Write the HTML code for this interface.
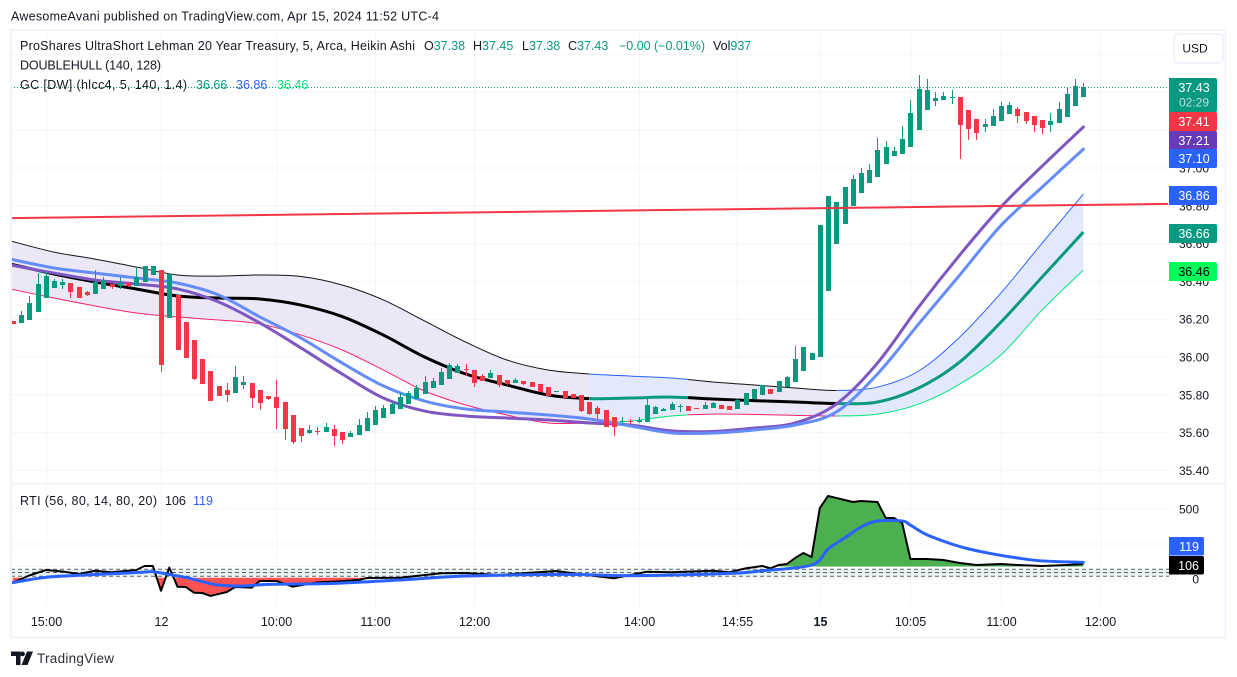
<!DOCTYPE html>
<html lang="en">
<head>
<meta charset="utf-8">
<title>Heikin Ashi chart</title>
<style>
html,body{margin:0;padding:0;background:#fff;width:1237px;height:677px;overflow:hidden}
svg{display:block}
text{font-family:"Liberation Sans","DejaVu Sans",sans-serif;fill:#131722}
</style>
</head>
<body>
<svg id="chart" xmlns="http://www.w3.org/2000/svg" width="1237" height="677" viewBox="0 0 1237 677">
  <rect x="0" y="0" width="1237" height="677" fill="#ffffff"/>
  <text x="11" y="20.5" font-size="12.5" textLength="428" fill="#131722">AwesomeAvani published on TradingView.com, Apr 15, 2024 11:52 UTC-4</text>
  <g id="grid"></g>
  <g id="hull"></g>
  <g id="rti"></g>
  <g id="candles"></g>
  <g id="overlay"></g>
  <rect x="11" y="30" width="1214.5" height="607.5" fill="none" stroke="#f0f3fa" stroke-width="2"/>
  <line x1="11" x2="1225" y1="483.5" y2="483.5" stroke="#f0f3fa" stroke-width="1.5"/>
  <g id="axes"></g>

  <g font-size="12.5">
    <text x="20" y="50" textLength="395">ProShares UltraShort Lehman 20 Year Treasury, 5, Arca, Heikin Ashi</text>
    <text x="424" y="50">O<tspan fill="#089981" style="fill:#089981">37.38</tspan></text>
    <text x="473" y="50">H<tspan fill="#089981" style="fill:#089981">37.45</tspan></text>
    <text x="522" y="50">L<tspan fill="#089981" style="fill:#089981">37.38</tspan></text>
    <text x="568" y="50">C<tspan fill="#089981" style="fill:#089981">37.43</tspan></text>
    <text x="619" y="50" style="fill:#089981" textLength="86">−0.00 (−0.01%)</text>
    <text x="713" y="50">Vol<tspan fill="#089981" style="fill:#089981">937</tspan></text>
    <text x="20" y="69.5" textLength="141">DOUBLEHULL (140, 128)</text>
    <text x="20" y="89" textLength="167">GC [DW] (hlcc4, 5, 140, 1.4)</text>
    <text x="196" y="89" style="fill:#089981">36.66</text>
    <text x="236" y="89" style="fill:#2962ff">36.86</text>
    <text x="277" y="89" style="fill:#00e676">36.46</text>
  </g>
  <g font-size="12.5">
    <text x="20" y="505" textLength="137">RTI (56, 80, 14, 80, 20)</text>
    <text x="165" y="505">106</text>
    <text x="193" y="505" style="fill:#2962ff">119</text>
  </g>

  <g>
    <rect x="1174" y="34" width="49" height="29" rx="4" fill="#ffffff" stroke="#f0f3fa" stroke-width="2"/>
    <text x="1195" y="52.5" font-size="12" text-anchor="middle">USD</text>
  </g>

  <g id="labels"></g>

  <g>
    <path d="M11 651.5h9.5v13.5h-4.5v-9h-5zM22.5 651.5a2.4 2.4 0 1 1 0 4.8a2.4 2.4 0 0 1 0-4.8zM27 651.5h6l-5.5 13.5h-6z" fill="#131722"/>
    <text x="37" y="663" font-size="13.5" textLength="77" style="fill:#2a2e39">TradingView</text>
  </g>
</svg>

<script>
// ---------- price data (open, high, low, close per bar) ----------
const barOHLC = [
[36.191,36.191,36.175,36.175],[36.180,36.243,36.180,36.222],[36.196,36.323,36.196,36.286],[36.238,36.444,36.238,36.386],
[36.312,36.450,36.312,36.428],[36.365,36.412,36.365,36.402],[36.381,36.412,36.360,36.397],[36.391,36.391,36.312,36.344],
[36.370,36.370,36.312,36.312],[36.344,36.349,36.323,36.328],[36.333,36.460,36.333,36.397],[36.360,36.423,36.360,36.407],
[36.386,36.386,36.360,36.370],[36.376,36.423,36.360,36.391],[36.391,36.391,36.370,36.376],[36.376,36.471,36.376,36.423],
[36.397,36.481,36.397,36.481],[36.434,36.481,36.434,36.481],[36.460,36.460,35.921,35.958],[36.206,36.439,36.206,36.439],
[36.328,36.328,36.037,36.037],[36.185,36.185,35.995,35.995],[36.090,36.090,35.878,35.884],[35.989,35.989,35.857,35.857],
[35.926,35.926,35.767,35.767],[35.847,35.847,35.794,35.794],[35.825,35.862,35.762,35.799],[35.810,35.952,35.810,35.894],
[35.852,35.899,35.831,35.868],[35.862,35.862,35.730,35.783],[35.825,35.825,35.720,35.757],[35.794,35.794,35.773,35.778],
[35.788,35.878,35.619,35.730],[35.762,35.762,35.561,35.619],[35.693,35.693,35.540,35.550],[35.624,35.624,35.550,35.582],
[35.598,35.640,35.593,35.614],[35.609,35.630,35.587,35.603],[35.603,35.651,35.603,35.630],[35.619,35.640,35.529,35.582],
[35.603,35.603,35.540,35.561],[35.577,35.609,35.577,35.598],[35.587,35.672,35.587,35.640],[35.609,35.709,35.609,35.677],
[35.640,35.741,35.640,35.720],[35.677,35.746,35.677,35.730],[35.698,35.762,35.698,35.751],[35.725,35.810,35.725,35.788],
[35.751,35.820,35.751,35.810],[35.778,35.852,35.778,35.836],[35.804,35.899,35.804,35.868],[35.836,35.889,35.836,35.873],
[35.852,35.942,35.852,35.921],[35.884,35.968,35.884,35.958],[35.915,35.963,35.915,35.952],[35.937,35.963,35.899,35.931],
[35.931,35.931,35.841,35.862],[35.899,35.910,35.873,35.873],[35.889,35.931,35.889,35.915],[35.905,35.905,35.841,35.852],
[35.878,35.878,35.852,35.857],[35.862,35.889,35.862,35.878],[35.873,35.873,35.852,35.857],[35.868,35.868,35.841,35.841],
[35.857,35.857,35.815,35.815],[35.841,35.841,35.794,35.794],[35.815,35.820,35.815,35.820],[35.820,35.820,35.783,35.783],
[35.804,35.804,35.783,35.783],[35.799,35.799,35.709,35.714],[35.762,35.762,35.693,35.698],[35.730,35.741,35.672,35.698],
[35.720,35.720,35.630,35.630],[35.683,35.683,35.582,35.630],[35.656,35.683,35.640,35.661],[35.661,35.672,35.640,35.656],
[35.656,35.683,35.651,35.667],[35.656,35.778,35.656,35.746],[35.698,35.741,35.698,35.735],[35.714,35.730,35.714,35.725],
[35.720,35.762,35.720,35.751],[35.735,35.751,35.709,35.741],[35.741,35.741,35.714,35.714],[35.730,35.730,35.725,35.725],
[35.725,35.762,35.725,35.746],[35.730,35.762,35.730,35.757],[35.746,35.746,35.725,35.725],[35.741,35.741,35.720,35.720],
[35.725,35.778,35.725,35.773],[35.746,35.810,35.746,35.810],[35.778,35.831,35.778,35.831],[35.799,35.852,35.799,35.852],
[35.831,35.831,35.804,35.804],[35.815,35.873,35.815,35.873],[35.841,35.899,35.841,35.894],[35.868,36.058,35.868,35.989],
[35.926,36.053,35.926,36.053],[35.984,36.021,35.984,36.021],[36.000,36.698,36.000,36.698],[36.349,36.852,36.349,36.852],
[36.598,36.820,36.598,36.820],[36.704,36.899,36.704,36.899],[36.799,36.963,36.799,36.942],[36.868,37.000,36.868,36.973],
[36.920,37.021,36.920,36.989],[36.952,37.158,36.952,37.095],[37.021,37.143,37.021,37.111],[37.063,37.111,37.063,37.090],
[37.074,37.222,37.074,37.153],[37.111,37.360,37.111,37.291],[37.201,37.492,37.201,37.418],[37.307,37.471,37.307,37.412],
[37.354,37.402,37.328,37.370],[37.360,37.402,37.360,37.381],[37.370,37.412,37.338,37.375],[37.375,37.375,37.047,37.227],
[37.307,37.307,37.148,37.206],[37.259,37.259,37.148,37.185],[37.217,37.259,37.190,37.233],[37.222,37.312,37.222,37.275],
[37.248,37.349,37.248,37.328],[37.285,37.349,37.285,37.333],[37.312,37.322,37.238,37.275],[37.296,37.296,37.233,37.248],
[37.275,37.275,37.190,37.227],[37.254,37.254,37.180,37.211],[37.227,37.291,37.190,37.248],[37.238,37.349,37.238,37.312],
[37.270,37.428,37.270,37.391],[37.328,37.471,37.328,37.433],[37.375,37.449,37.375,37.428]
];

// ---------- overlay line data (sampled at lineBars) ----------
const lineBars   = [-0.3,5,10,15,20,25,30,35,40,45,50,55,60,65,70,75,80,85,90,95,100,105,110,115,120,125,130];
const hullUpper  = [36.614,36.555,36.518,36.476,36.434,36.428,36.434,36.426,36.381,36.302,36.191,36.079,35.984,35.931,35.910,35.899,35.889,35.868,35.852,35.836,35.823,35.841,35.926,36.106,36.339,36.603,36.862];
const hullCenter = [36.492,36.439,36.397,36.360,36.323,36.312,36.307,36.275,36.214,36.116,36.000,35.910,35.852,35.799,35.780,35.783,35.788,35.778,35.769,35.762,35.754,35.762,35.836,35.974,36.185,36.423,36.661];
const hullLower  = [36.360,36.312,36.270,36.233,36.212,36.196,36.175,36.116,36.037,35.931,35.820,35.746,35.693,35.651,35.651,35.661,35.688,35.698,35.696,35.691,35.688,35.698,35.751,35.857,36.011,36.249,36.460];
const doubleHullFast = [36.518,36.471,36.444,36.418,36.391,36.328,36.212,36.100,35.968,35.847,35.767,35.725,35.709,35.693,35.672,35.635,35.598,35.598,35.614,35.640,35.709,35.910,36.175,36.434,36.696,36.899,37.100];
const doubleHullSlow = [36.487,36.444,36.407,36.386,36.360,36.291,36.180,36.048,35.910,35.783,35.714,35.688,35.677,35.667,35.651,35.640,35.609,35.606,35.624,35.651,35.751,35.968,36.265,36.540,36.794,37.010,37.217];
const regimeStarts = [-0.3,70,82,100];
const regimeEnds   = [70,82,100,130];
const regimeTrend  = ['down','up','down','up'];
const trendLineBars   = [-0.3,140.3];
const trendLinePrices = [36.735,36.81];
const lastPrice = 37.43;

// ---------- RTI pane data ----------
const rtiBars   = [0,2,4,6,8,10,12,15,16,17,18,19,20,21,22,23,24,26,27,29,30,32,34,37,39,42,43,47,52,55,59,66,68,73,77,80,85,87,89,91,92,93,94,95,96,97,98,99,100,102,103,105,106,107,108,109,111,113,115,117,120,122,125,128,130];
const rtiValues = [-26,25,64,54,36,59,48,64,93,93,-84,81,-55,-57,-98,-100,-121,-93,-57,-62,-14,-14,-55,-24,-19,-7,7,9,41,43,29,57,41,5,52,48,59,48,76,93,76,100,107,150,186,157,507,593,579,550,557,550,436,436,400,143,143,136,114,100,107,100,93,100,107];
const rtiMaBars   = [0,4,10,15,17,19,21,23,25,28,31,39,47,55,67,75,87,91,97,99,101,103,105,108,109,111,114,116,119,122,125,130];
const rtiMaValues = [-26,12,32,46,52,32,11,-18,-43,-50,-38,-31,-7,21,33,24,40,59,100,214,293,371,414,414,385,316,250,216,179,150,129,119];
const rtiLevels = [70,46,20];
const rtiBand = [70,20];
const rtiGreenLevel = 88;
const rtiRedLevel = 10;
const rtiGrid = [500,250,0];
const rtiTickLabels = [500,0];

// ---------- axis data ----------
const priceTicks = [37.6,37.4,37.2,37.0,36.8,36.6,36.4,36.2,36.0,35.8,35.6,35.4];
const timeBars   = [4,18,32,44,56,76,88,98,109,120,132];
const timeLabels = ['15:00','12','10:00','11:00','12:00','14:00','14:55','15','10:05','11:00','12:00'];
const timeBold   = ['15'];

// ---------- price tags ----------
const tagPrices = [37.41,37.21,37.10,36.86,36.66,36.46];
const tagText   = ['37.41','37.21','37.10','36.86','36.66','36.46'];
const tagFill   = ['#f23645','#673ab7','#2962ff','#2962ff','#089981','#00ff5b'];
const tagInk    = ['#ffffff','#ffffff','#ffffff','#ffffff','#ffffff','#000000'];
const rtiTagValues = [119,106];
const rtiTagFill = ['#2962ff','#000000'];

// ---------- scales ----------
function xBar(i){ return 12.8 + 8.235*i; }
function yPrice(v){ return 357 - (v-36)*189; }
function yRti(v){ return 579 - v*0.14; }

const NS = 'http://www.w3.org/2000/svg';
function make(tag, attrs, parent){
  const el = document.createElementNS(NS, tag);
  for (const k in attrs) el.setAttribute(k, attrs[k]);
  parent.appendChild(el);
  return el;
}
function pointsOf(bars, vals, yf){ return bars.map((b,i)=>[xBar(b), yf(vals[i])]); }
function curveSegs(p){
  let d = '';
  for (let i=0;i<p.length-1;i++){
    const p0=p[Math.max(i-1,0)], p1=p[i], p2=p[i+1], p3=p[Math.min(i+2,p.length-1)];
    const c1x=p1[0]+(p2[0]-p0[0])/6, c1y=p1[1]+(p2[1]-p0[1])/6;
    const c2x=p2[0]-(p3[0]-p1[0])/6, c2y=p2[1]-(p3[1]-p1[1])/6;
    d += 'C'+c1x.toFixed(2)+' '+c1y.toFixed(2)+' '+c2x.toFixed(2)+' '+c2y.toFixed(2)+' '+p2[0].toFixed(2)+' '+p2[1].toFixed(2);
  }
  return d;
}
function smooth(p){ return 'M'+p[0][0].toFixed(2)+' '+p[0][1].toFixed(2)+curveSegs(p); }
function straight(p){ return 'M'+p.map(q=>q[0].toFixed(2)+' '+q[1].toFixed(2)).join('L'); }

const gridG = document.getElementById('grid');
const hullG = document.getElementById('hull');
const rtiG = document.getElementById('rti');
const candleG = document.getElementById('candles');
const overlayG = document.getElementById('overlay');
const axesG = document.getElementById('axes');
const labelsG = document.getElementById('labels');
const GRID = '#f3f4f8';

// ---------- grid ----------
priceTicks.forEach(function(v){
  const l = make('line',{x1:11,x2:1169,y1:yPrice(v),y2:yPrice(v),stroke:GRID,'stroke-width':1},gridG);
  
  
});
rtiGrid.forEach(function(v){
  const l = make('line',{x1:11,x2:1169,y1:yRti(v),y2:yRti(v),stroke:GRID,'stroke-width':1},gridG);
  
  
});
timeBars.forEach(function(b){
  const x = Math.round(xBar(b))+0.5;
  const l = make('line',{x1:x,x2:x,y1:30,y2:606,stroke:GRID,'stroke-width':1},gridG);
  
  
});

// ---------- hull fills and lines ----------
const defs = make('defs',{},hullG);
const paneClip = make('clipPath',{id:'paneClip'},defs);
make('rect',{x:11,y:30,width:1158,height:454},paneClip);
hullG.setAttribute('clip-path','url(#paneClip)');
regimeStarts.forEach(function(b,i){
  const c = make('clipPath',{id:'reg'+i},defs);
  const x0 = i===0 ? 0 : xBar(b);
  const x1 = i===regimeStarts.length-1 ? 1237 : xBar(regimeEnds[i]);
  make('rect',{x:x0,y:0,width:x1-x0,height:677},c);
});
const upPts = pointsOf(lineBars,hullUpper,yPrice);
const loPts = pointsOf(lineBars,hullLower,yPrice);
const ctPts = pointsOf(lineBars,hullCenter,yPrice);
const loRev = loPts.slice().reverse();
const fillD = smooth(upPts)+'L'+loRev[0][0].toFixed(2)+' '+loRev[0][1].toFixed(2)+curveSegs(loRev)+'Z';
regimeTrend.forEach(function(t,i){
  const isUp = t==='up';
  const g = make('g',{'clip-path':'url(#reg'+i+')'},hullG);
  
  
  const band = make('path',{d:fillD,fill:isUp?'#e3e9fc':'#ece7f6',stroke:'none'},g);
  
  
  const up = make('path',{d:smooth(upPts),fill:'none',stroke:isUp?'#2962ff':'#131313','stroke-width':1},g);
  
  
  const lo = make('path',{d:smooth(loPts),fill:'none',stroke:isUp?'#00e676':'#f0246a','stroke-width':1},g);
  
  
  const ct = make('path',{d:smooth(ctPts),fill:'none',stroke:isUp?'#089981':'#000000','stroke-width':3},g);
  
  
});
const slowLine = make('path',{d:smooth(pointsOf(lineBars,doubleHullSlow,yPrice)),fill:'none',stroke:'#7e57c2','stroke-width':3,'stroke-linecap':'round'},hullG);


const fastLine = make('path',{d:smooth(pointsOf(lineBars,doubleHullFast,yPrice)),fill:'none',stroke:'#648cfb','stroke-width':3,'stroke-linecap':'round'},hullG);



// ---------- candles ----------
barOHLC.forEach(function(r,i){
  const o=r[0],h=r[1],l=r[2],c=r[3];
  const color = c>=o ? '#089981' : '#f23645';
  const cx = Math.round(xBar(i));
  const g = make('g',{},candleG);
  
  
  const yh = Math.round(yPrice(Math.max(h,o,c))), yl = Math.round(yPrice(Math.min(l,o,c)));
  if (yl>yh){
    const wick = make('rect',{x:cx,y:yh,width:1,height:yl-yh,fill:color},g);
    
    
  }
  const top = Math.round(yPrice(Math.max(o,c))), bot = Math.round(yPrice(Math.min(o,c)));
  const body = make('rect',{x:cx-2,y:top,width:5,height:Math.max(1,bot-top),fill:color},g);
  
  
});

// ---------- overlay: last price line & trend line ----------
const lastLine = make('line',{x1:11,x2:1169,y1:Math.round(yPrice(lastPrice))+0.5,y2:Math.round(yPrice(lastPrice))+0.5,stroke:'#089981','stroke-width':1,'stroke-dasharray':'1 2'},overlayG);


const trend = make('line',{x1:xBar(trendLineBars[0]),y1:yPrice(trendLinePrices[0]),x2:xBar(trendLineBars[1]),y2:yPrice(trendLinePrices[1]),stroke:'#f23645','stroke-width':2},overlayG);



// ---------- RTI pane ----------
const band = make('rect',{x:11,y:yRti(rtiBand[0]),width:1158,height:yRti(rtiBand[1])-yRti(rtiBand[0]),fill:'#e8f4f2'},rtiG);


rtiLevels.forEach(function(v){
  const l = make('line',{x1:11,x2:1169,y1:yRti(v),y2:yRti(v),stroke:'#5d606b','stroke-width':1,'stroke-dasharray':'4 3'},rtiG);
  
  
});
const rd = make('defs',{},rtiG);
const cA = make('clipPath',{id:'rtiAbove'},rd);
make('rect',{x:0,y:480,width:1237,height:yRti(rtiGreenLevel)-480},cA);
const cB = make('clipPath',{id:'rtiBelow'},rd);
make('rect',{x:0,y:yRti(rtiRedLevel),width:1237,height:120},cB);
const rtiPts = pointsOf(rtiBars,rtiValues,yRti);
const rtiPath = straight(rtiPts);
const first = rtiPts[0][0].toFixed(2), last = rtiPts[rtiPts.length-1][0].toFixed(2);
const greenArea = make('path',{d:rtiPath+'L'+last+' '+yRti(rtiGreenLevel)+'L'+first+' '+yRti(rtiGreenLevel)+'Z',fill:'#4caf50','clip-path':'url(#rtiAbove)'},rtiG);


const redArea = make('path',{d:rtiPath+'L'+last+' '+yRti(rtiRedLevel)+'L'+first+' '+yRti(rtiRedLevel)+'Z',fill:'#ff5252','clip-path':'url(#rtiBelow)'},rtiG);


const rtiLine = make('path',{d:rtiPath,fill:'none',stroke:'#000000','stroke-width':2,'stroke-linejoin':'round'},rtiG);


const rtiMa = make('path',{d:smooth(pointsOf(rtiMaBars,rtiMaValues,yRti)),fill:'none',stroke:'#2962ff','stroke-width':3,'stroke-linecap':'round'},rtiG);



// ---------- axes ----------
priceTicks.forEach(function(v){
  const t = make('text',{x:1194,y:yPrice(v)+4.5,'font-size':12,'text-anchor':'middle'},axesG);
  
  
  t.textContent = v.toFixed(2);
});
rtiTickLabels.forEach(function(v){
  const t = make('text',{x:1199,y:yRti(v)+4.5,'font-size':12,'text-anchor':'end'},axesG);
  
  
  t.textContent = String(v);
});
timeBars.forEach(function(b,i){
  const t = make('text',{x:Math.round(xBar(b))+0.5,y:626,'font-size':12.5,'text-anchor':'middle'},axesG);
  
  
  if (timeBold.indexOf(timeLabels[i])>=0) t.setAttribute('font-weight','bold');
  t.textContent = timeLabels[i];
});

// ---------- price tags ----------
function roundedTag(y,h,fill){
  const d = 'M1169 '+y+'H1215a2 2 0 0 1 2 2V'+(y+h-2)+'a2 2 0 0 1 -2 2H1169Z';
  return make('path',{d:d,fill:fill},labelsG);
}
const lastBox = roundedTag(78,34,'#089981');


const lastTxt = make('text',{x:1194,y:92,'font-size':12.5,'text-anchor':'middle',style:'fill:#ffffff'},labelsG);


lastTxt.textContent = lastPrice.toFixed(2);
const cdTxt = make('text',{x:1194,y:106.5,'font-size':12,'text-anchor':'middle',style:'fill:#ffffff;fill-opacity:.7'},labelsG);


cdTxt.textContent = '02:29';
const tagTops = [112,131,149,186,224,262];
tagPrices.forEach(function(p,i){
  const box = roundedTag(tagTops[i],19,tagFill[i]);
  
  
  const t = make('text',{x:1194,y:tagTops[i]+14,'font-size':12.5,'text-anchor':'middle',style:'fill:'+tagInk[i]},labelsG);
  
  
  t.textContent = tagText[i];
});
const rtiTops = [537,556];
rtiTagValues.forEach(function(v,i){
  const d = 'M1169 '+rtiTops[i]+'H1202a2 2 0 0 1 2 2V'+(rtiTops[i]+16.5)+'a2 2 0 0 1 -2 2H1169Z';
  const box = make('path',{d:d,fill:rtiTagFill[i]},labelsG);
  
  
  const t = make('text',{x:1199,y:rtiTops[i]+14,'font-size':12.5,'text-anchor':'end',style:'fill:#ffffff'},labelsG);
  
  
  t.textContent = String(v);
});
</script>
</body>
</html>
